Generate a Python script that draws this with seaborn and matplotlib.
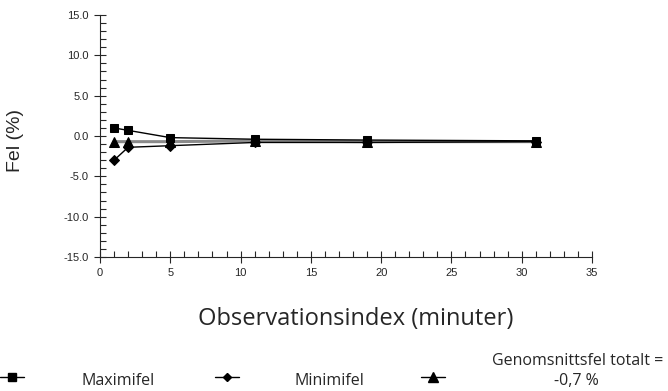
import numpy as np
import matplotlib
matplotlib.use("Agg")
import matplotlib.pyplot as plt
import seaborn as sns
from matplotlib.lines import Line2D
from matplotlib.ticker import MultipleLocator

# data
minutes = [1, 2, 5, 11, 19, 31]
max_err = [1.0, 0.7, -0.2, -0.4, -0.5, -0.6]
min_err = [-3.0, -1.4, -1.2, -0.8, -0.8, -0.7]
mean_err = [-0.7, -0.7, -0.7, -0.6, -0.7, -0.7]

sns.set_style("ticks")
plt.rcParams['font.family'] = ['Liberation Sans', 'DejaVu Sans']

fig = plt.figure(figsize=(6.68, 3.91), dpi=100)
ax = fig.add_axes([0.1497, 0.3427, 0.7365, 0.6189])

sns.lineplot(x=minutes, y=mean_err, ax=ax, color='#8a8a8a', lw=2.2,
             marker='^', markersize=7, markerfacecolor='black',
             markeredgecolor='black', zorder=2)
sns.lineplot(x=minutes, y=max_err, ax=ax, color='black', lw=1,
             marker='s', markersize=6, markeredgecolor='black', zorder=3)
sns.lineplot(x=minutes, y=min_err, ax=ax, color='black', lw=1,
             marker='D', markersize=5, markeredgecolor='black', zorder=3)

ax.set_xlim(0, 35)
ax.set_ylim(-15, 15)
ax.xaxis.set_major_locator(MultipleLocator(5))
ax.xaxis.set_minor_locator(MultipleLocator(1))
ax.yaxis.set_major_locator(MultipleLocator(5))
ax.yaxis.set_minor_locator(MultipleLocator(1))
ax.set_yticklabels([f"{v:.1f}" for v in ax.get_yticks()])
ax.tick_params(which='major', direction='inout', length=8, width=0.8,
               labelsize=8, pad=4)
ax.tick_params(which='minor', direction='in', length=4, width=0.8)
sns.despine(ax=ax)
for s in ['left', 'bottom']:
    ax.spines[s].set_linewidth(0.8)

ax.set_ylabel('Fel (%)', fontsize=14)
ax.yaxis.set_label_coords(-0.154, 0.48)
fig.text(0.532, 1 - 319 / 391, 'Observationsindex (minuter)', ha='center', va='center',
         fontsize=17, family='Open Sans')

# legend row drawn by hand
ly = 1 - 381 / 391
my = 1 - 377 / 391
for cx, mk, ms in [(12, 's', 6), (227, 'D', 4.5), (433, '^', 7)]:
    fig.add_artist(Line2D([(cx - 12) / 668, (cx + 12) / 668], [my, my],
                          color='black', lw=1, transform=fig.transFigure))
    fig.add_artist(Line2D([cx / 668], [my], marker=mk, markersize=ms,
                          color='black', transform=fig.transFigure))
fig.text(118 / 668, ly, 'Maximifel', ha='center', va='center', fontsize=11.5, family='Open Sans')
fig.text(329 / 668, ly, 'Minimifel', ha='center', va='center', fontsize=11.5, family='Open Sans')
fig.text(578 / 668, 1 - 361 / 391, 'Genomsnittsfel totalt =', ha='center', va='center',
         fontsize=11.5, family='Open Sans')
fig.text(576 / 668, ly, '-0,7 %', ha='center', va='center', fontsize=11.5, family='Open Sans')

fig.savefig('out.png', dpi=100)
